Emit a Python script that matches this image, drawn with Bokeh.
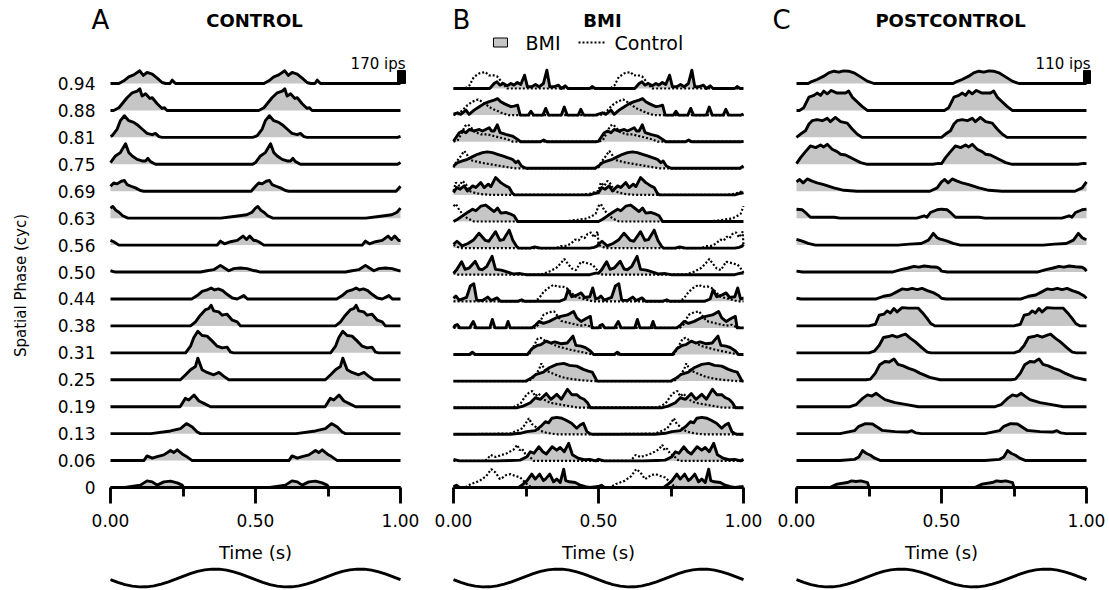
import math
from bokeh.plotting import figure
from bokeh.models import Range1d, LinearAxis, FixedTicker, NumeralTickFormatter, Label
from bokeh.layouts import row
from bokeh.core.properties import value
from bokeh.embed import file_html
from bokeh.resources import INLINE

# ---------------- data ----------------
PHASES = ["0", "0.06", "0.13", "0.19", "0.25", "0.31", "0.38", "0.44",
          "0.50", "0.56", "0.63", "0.69", "0.75", "0.81", "0.88", "0.94"]
TIME_TICKS = [0.0, 0.5, 1.0]
TIME_MINOR = [0.25, 0.75]
CYCLE_MS = 500          # each 0.5 s response cycle is shown twice
SCALE_A_IPS = 170
SCALE_C_IPS = 110

# one stimulus cycle per row: (time ms, rate ips); rows from phase 0 to 0.94
CONTROL = [
    [(0,0),(50,0),(103,31),(126,87),(144,74),(161,31),(184,74),(207,83),(230,61),(247,31),(253,0)],
    [(0,0),(115,0),(126,61),(144,31),(161,52),(184,74),(207,131),(218,105),(230,140),(247,87),(259,61),(282,0)],
    [(0,0),(140,0),(207,35),(241,65),(262,131),(282,87),(299,22),(310,0)],
    [(0,0),(240,0),(258,109),(270,87),(288,153),(305,74),(322,44),(345,0)],
    [(0,0),(241,0),(259,65),(276,131),(293,174),(301,283),(316,131),(333,96),(356,65),(374,96),(391,44),(408,0)],
    [(0,0),(259,0),(276,87),(287,196),(301,283),(316,227),(333,218),(351,153),(368,87),(385,65),(402,74),(414,9),(425,0)],
    [(0,0),(276,0),(293,52),(310,140),(328,214),(339,227),(347,270),(356,196),(374,183),(385,140),(402,153),(420,74),(437,52),(448,0)],
    [(0,0),(280,0),(299,44),(316,100),(333,118),(347,144),(359,118),(372,131),(387,109),(402,61),(420,13),(437,0),(460,44),(472,0)],
    [(0,17),(17,0),(310,0),(333,17),(356,31),(379,87),(393,52),(408,17),(425,44),(448,52),(471,44),(494,17)],
    [(0,61),(11,44),(29,0),(368,0),(379,52),(393,17),(414,44),(437,61),(457,118),(469,74),(480,118),(494,61)],
    [(0,131),(8,153),(18,105),(30,74),(42,31),(60,0),(380,0),(425,22),(470,44),(488,78)],
    [(0,65),(11,109),(23,96),(37,131),(48,140),(57,87),(71,65),(86,44),(103,9),(115,0),(485,0)],
    [(0,22),(17,109),(34,153),(52,270),(63,153),(75,109),(92,65),(109,44),(121,44),(129,78),(138,35),(155,0),(490,0)],
    [(0,13),(6,22),(23,109),(34,218),(48,283),(63,218),(80,196),(92,166),(109,109),(126,52),(144,35),(155,52),(167,9),(178,0),(490,0)],
    [(0,0),(11,0),(29,35),(57,166),(75,231),(92,253),(101,283),(109,187),(121,218),(136,157),(144,166),(161,87),(178,26),(186,35),(195,0)],
    [(0,0),(29,0),(46,35),(63,87),(80,113),(101,166),(113,105),(126,144),(144,122),(161,70),(178,13),(190,0),(205,0),(213,44),(224,0)],
]

BMI = [
    [(0,13),(10,30),(20,0),(225,0),(240,45),(253,87),(270,175),(282,110),(297,175),(310,90),(317,110),(332,175),(345,75),(356,110),(368,65),(380,240),(387,90),(400,75),(420,65),(437,30),(455,10),(470,0)],
    [(0,20),(10,10),(20,0),(150,0),(200,5),(230,10),(253,55),(265,120),(277,100),(294,185),(308,120),(320,90),(340,185),(356,140),(368,175),(382,120),(397,230),(410,80),(430,35),(450,15),(470,20),(490,0)],
    [(0,0),(195,0),(230,13),(253,35),(282,48),(300,100),(317,165),(328,150),(339,210),(356,222),(374,210),(390,180),(407,145),(425,80),(437,122),(448,145),(460,35),(470,10),(480,0)],
    [(0,0),(220,0),(240,20),(265,65),(282,130),(300,110),(320,185),(336,110),(356,175),(372,110),(393,240),(408,170),(425,170),(438,130),(450,110),(462,65),(472,0)],
    [(0,0),(250,0),(270,45),(285,87),(310,118),(330,175),(356,218),(380,231),(400,205),(425,196),(448,153),(465,130),(478,118),(488,50),(495,0)],
    [(0,0),(55,0),(65,30),(75,0),(255,0),(270,75),(290,120),(302,130),(320,175),(335,150),(350,165),(372,140),(392,150),(412,240),(422,120),(440,110),(455,90),(472,45),(483,0)],
    [(0,0),(5,30),(13,45),(22,0),(55,0),(68,85),(78,0),(125,0),(134,110),(143,0),(180,0),(188,85),(196,0),(270,0),(284,40),(295,85),(310,60),(330,85),(353,130),(370,150),(393,170),(414,215),(425,130),(440,85),(460,130),(472,150),(478,0)],
    [(0,40),(8,70),(20,15),(45,50),(58,200),(70,230),(80,15),(100,10),(118,55),(130,10),(150,45),(162,0),(220,0),(235,20),(245,0),(365,0),(385,30),(395,150),(408,60),(425,80),(440,110),(452,50),(470,60),(480,175),(490,30),(497,40)],
    [(0,20),(10,60),(28,170),(40,70),(55,90),(75,175),(88,75),(100,65),(115,110),(133,240),(145,70),(165,60),(190,30),(205,10),(230,15),(250,0),(470,0),(490,20)],
    [(0,50),(12,90),(30,30),(50,60),(70,110),(88,195),(110,100),(122,90),(145,215),(160,100),(172,110),(192,235),(205,100),(218,20),(225,0),(265,0),(280,15),(300,0),(470,0),(485,10),(495,25)],
    [(0,0),(14,30),(31,74),(48,118),(66,161),(77,140),(94,200),(111,215),(123,180),(140,130),(152,175),(163,110),(180,118),(198,96),(209,74),(221,0)],
    [(0,30),(11,96),(23,74),(37,118),(48,52),(66,118),(77,96),(94,161),(106,96),(120,140),(129,109),(145,227),(163,161),(180,118),(192,96),(203,22),(210,0),(470,0),(490,22)],
    [(0,30),(14,74),(31,96),(48,118),(66,153),(83,183),(100,205),(117,214),(134,205),(152,183),(169,161),(186,140),(203,118),(215,74),(223,96),(234,30),(250,0),(488,0)],
    [(0,5),(8,52),(20,118),(31,140),(43,118),(54,160),(71,140),(89,160),(100,140),(111,160),(123,183),(131,140),(140,140),(151,220),(161,118),(180,96),(203,74),(221,30),(232,0),(300,0),(311,22),(322,0),(490,0)],
    [(0,13),(14,30),(25,10),(43,65),(54,10),(71,65),(89,110),(106,150),(123,175),(140,195),(152,215),(163,175),(175,150),(186,130),(198,110),(209,118),(221,130),(230,0),(258,0),(267,50),(276,0),(308,0),(318,87),(328,0),(372,0),(382,105),(392,0),(430,0),(439,75),(449,0),(490,0)],
    [(0,0),(125,0),(140,65),(150,87),(160,44),(172,65),(185,35),(198,65),(208,44),(220,78),(232,52),(245,174),(255,22),(270,22),(283,52),(295,22),(310,65),(322,240),(332,22),(345,22),(362,44),(372,0),(385,35),(395,0),(470,0),(478,26),(488,0)],
]

BMI_CONTROL = [
    [(0,0),(40,0),(60,45),(90,87),(113,150),(130,240),(145,196),(160,110),(170,131),(180,160),(197,175),(214,150),(230,131),(245,75),(260,20),(275,0)],
    [(0,0),(110,0),(120,40),(128,78),(145,50),(167,78),(184,100),(208,150),(220,210),(228,140),(236,160),(248,90),(265,45),(277,0)],
    [(0,0),(195,10),(220,48),(237,78),(248,135),(260,210),(270,135),(282,100),(300,45),(320,20),(345,5),(360,0)],
    [(0,0),(200,0),(215,20),(232,60),(248,150),(260,195),(272,218),(282,150),(293,185),(310,110),(333,65),(370,40),(400,20),(430,0)],
    [(0,0),(260,0),(280,65),(295,153),(303,231),(314,153),(330,118),(350,87),(370,55),(400,30),(440,12),(480,0)],
    [(0,0),(260,0),(275,100),(290,205),(300,218),(318,175),(335,150),(356,110),(380,85),(400,65),(425,45),(450,25),(470,10),(480,0)],
    [(0,0),(280,0),(295,50),(310,170),(330,205),(347,215),(360,150),(372,90),(393,70),(416,50),(440,30),(460,40),(475,10)],
    [(0,0),(280,0),(295,40),(310,120),(325,170),(345,215),(360,190),(375,195),(390,175),(405,120),(420,60),(440,40),(460,20),(480,0)],
    [(0,20),(15,0),(300,0),(330,40),(355,90),(370,150),(382,205),(395,140),(408,80),(422,60),(440,170),(462,150),(480,130),(495,60)],
    [(0,40),(12,20),(25,0),(355,0),(370,25),(390,30),(405,60),(420,110),(432,100),(442,150),(452,130),(462,185),(474,205),(485,140),(497,215)],
    [(0,200),(8,230),(20,150),(31,100),(48,40),(71,0),(380,0),(425,20),(460,40),(475,65),(490,100)],
    [(0,52),(8,161),(20,118),(31,183),(43,140),(54,52),(71,30),(94,10),(130,0),(440,0),(470,15),(490,40)],
    [(0,10),(8,74),(25,160),(37,227),(46,183),(55,110),(71,96),(94,74),(129,52),(163,30),(209,0),(490,0)],
    [(0,0),(15,20),(28,110),(40,205),(50,225),(62,180),(75,125),(95,96),(117,96),(140,74),(163,52),(186,30),(205,0)],
    [(0,0),(15,10),(30,60),(48,130),(65,175),(85,205),(100,170),(115,130),(130,90),(148,60),(165,30),(190,0)],
    [(0,0),(40,0),(55,40),(70,150),(90,200),(110,215),(122,170),(135,175),(150,160),(165,90),(185,0)],
]

POSTCONTROL = [
    [(0,0),(115,0),(140,28),(175,42),(190,56),(205,51),(222,56),(245,42),(250,0)],
    [(0,0),(150,0),(200,10),(215,30),(228,85),(240,62),(255,45),(270,20),(290,0)],
    [(0,0),(150,0),(200,25),(215,62),(238,85),(262,82),(278,56),(295,28),(340,17),(385,14),(398,25),(412,6),(430,0)],
    [(0,0),(185,0),(205,17),(228,70),(245,100),(260,90),(275,113),(290,85),(305,60),(340,34),(380,17),(420,0)],
    [(0,0),(240,0),(255,6),(272,56),(287,127),(305,155),(320,150),(336,176),(350,130),(368,118),(387,96),(405,82),(425,56),(460,20),(495,0)],
    [(0,0),(250,0),(268,14),(285,62),(300,130),(318,138),(330,147),(347,133),(365,150),(376,158),(392,124),(410,93),(433,42),(451,6),(465,0)],
    [(0,0),(250,0),(272,14),(285,90),(301,99),(313,127),(324,110),(336,147),(347,118),(364,155),(387,150),(420,150),(435,110),(451,62),(463,20),(478,0)],
    [(0,6),(15,0),(275,0),(300,23),(325,34),(347,62),(364,85),(382,79),(399,90),(416,79),(433,90),(451,71),(474,51),(491,28)],
    [(0,8),(20,0),(330,0),(360,20),(385,34),(405,48),(422,42),(440,51),(462,45),(485,40),(495,25)],
    [(0,48),(20,34),(40,14),(65,0),(350,0),(390,8),(430,14),(455,42),(472,99),(485,62),(495,51)],
    [(0,76),(20,71),(31,48),(48,8),(130,8),(150,0),(415,0),(440,20),(450,8),(462,48),(485,71)],
    [(0,79),(11,99),(23,71),(37,104),(54,85),(71,71),(94,56),(129,28),(163,8),(209,0),(460,0),(485,28)],
    [(0,6),(14,56),(31,107),(48,155),(66,141),(83,164),(94,147),(106,169),(123,127),(140,107),(152,85),(169,79),(198,42),(221,14),(244,0),(470,0),(490,8)],
    [(0,0),(14,28),(31,56),(43,113),(54,141),(71,150),(89,141),(106,161),(117,133),(134,169),(152,133),(175,121),(192,71),(209,28),(226,0),(490,0)],
    [(0,0),(10,0),(25,23),(43,113),(60,127),(71,147),(83,127),(94,164),(106,141),(120,169),(140,147),(169,147),(180,164),(192,113),(209,73),(226,34),(244,0)],
    [(0,0),(40,0),(48,11),(71,34),(94,62),(111,90),(129,104),(146,96),(163,107),(180,104),(198,90),(221,56),(244,20),(267,0)],
]

# stimulus trace under each panel (relative position, sampled every 25 ms)
STIM_STEP_S = 0.025
STIMULUS = [-0.19, -0.48, -0.73, -0.90, -0.99, -0.98, -0.88, -0.67, -0.42, -0.12,
            0.19, 0.48, 0.73, 0.90, 0.99, 0.98, 0.88, 0.67, 0.42, 0.12,
            -0.19, -0.48, -0.73, -0.90, -0.99, -0.98, -0.88, -0.67, -0.42, -0.12,
            0.19, 0.48, 0.73, 0.90, 0.99, 0.98, 0.88, 0.67, 0.42, 0.12, -0.19]

# ---------------- styling / geometry (page pixels) ----------------
FONT = "DejaVu Sans"
GRAY = "#c6c6c6"
LW = 2.9
PX_PER_S = 290.0
BASE_PX = 487                 # page y of row-0 baseline, where the time axis sits
TOTAL_H = 589
SINE_MID_PX, SINE_AMP_PX = 577.5, 9.0

# panel edges in page x and page x of t = 0
PANELS = {"A": (0, 426, 110), "B": (426, 769, 453), "C": (769, 1108, 796)}


def X(px, t0):
    return (px - t0) / PX_PER_S


def Y(py, sp):
    return (BASE_PX - py) / sp


def expand(cycle):
    t = [ms / 1000 for ms, _ in cycle] + [(ms + CYCLE_MS) / 1000 for ms, _ in cycle] + [1.0]
    v = [val for _, val in cycle] * 2 + [cycle[0][1]]
    return t, v


def make_panel(key, spacing, k, traces, control=None):
    left, right, t0 = PANELS[key]
    p = figure(width=right - left, height=TOTAL_H,
               x_range=Range1d(X(left, t0), X(right, t0)),
               y_range=Range1d(Y(TOTAL_H, spacing), Y(0, spacing)),
               output_backend="svg", toolbar_location=None,
               x_axis_type=None, y_axis_type=None, min_border=0,
               min_border_left=0, min_border_right=0,
               min_border_top=0, min_border_bottom=0)
    p.outline_line_color = None
    p.background_fill_color = "white"
    p.border_fill_color = "white"

    for r, cyc in enumerate(traces):
        t, v = expand(cyc)
        y = [r + val * k for val in v]
        p.varea(x=t, y1=[r] * len(t), y2=y, fill_color=GRAY)
        if control is not None:
            tc, vc = expand(control[r])
            p.line(tc, [r + val * k for val in vc], line_color="black",
                   line_width=2.2, line_dash="2 2")
        p.line(t, y, line_color="black", line_width=LW, line_join="round")

    xax = LinearAxis(fixed_location=0,
                     ticker=FixedTicker(ticks=TIME_TICKS, minor_ticks=TIME_MINOR),
                     formatter=NumeralTickFormatter(format="0.00"),
                     bounds=(0, 1), axis_label="Time (s)",
                     axis_line_width=LW, axis_line_color="black",
                     major_tick_line_width=LW, major_tick_line_color="black",
                     minor_tick_line_width=LW, minor_tick_line_color="black",
                     major_tick_in=0, major_tick_out=16,
                     minor_tick_in=0, minor_tick_out=9,
                     major_label_standoff=10, axis_label_standoff=12,
                     major_label_text_font=FONT, major_label_text_font_size="17px",
                     major_label_text_color="black",
                     axis_label_text_font=FONT, axis_label_text_font_size="18px",
                     axis_label_text_font_style="normal", axis_label_text_color="black")
    p.add_layout(xax, "below")

    # stimulus trace under the axis
    ts = [i * STIM_STEP_S for i in range(len(STIMULUS))]
    ys = [Y(SINE_MID_PX, spacing) + s * SINE_AMP_PX / spacing for s in STIMULUS]
    p.line(ts, ys, line_color="black", line_width=LW)
    return p


def label(p, x, y, text, size, align="center", bold=False, angle=0.0):
    p.add_layout(Label(x=x, y=y, text=text, text_font=FONT, text_font_size=size,
                       text_align=align, text_baseline="middle", text_color="black",
                       text_font_style="bold" if bold else "normal", angle=angle))


# ---------------- panels ----------------
SP_AC = (BASE_PX - 83) / 15.0
SP_B = (BASE_PX - 88) / 15.0
K_A = (13.0 / SCALE_A_IPS) / SP_AC
K_B = (13.0 / SCALE_A_IPS) / SP_B
K_C = (13.0 / SCALE_C_IPS) / SP_AC

pA = make_panel("A", SP_AC, K_A, CONTROL)
pB = make_panel("B", SP_B, K_B, BMI, control=BMI_CONTROL)
pC = make_panel("C", SP_AC, K_C, POSTCONTROL)

# Panel A: phase labels, axis title, letter, title, scale bar
pA.text(x=[X(95, 110)] * len(PHASES), y=list(range(len(PHASES))), text=PHASES,
        text_font=value(FONT), text_font_size="17px", text_align="right",
        text_baseline="middle", text_color="black")
label(pA, X(20, 110), Y(285, SP_AC), "Spatial Phase (cyc)", "15px", angle=math.pi / 2)
label(pA, X(100, 110), Y(19, SP_AC), "A", "26px")
label(pA, X(254, 110), Y(20, SP_AC), "CONTROL", "18px", bold=True)
label(pA, X(405, 110), Y(63, SP_AC), f"{SCALE_A_IPS} ips", "15px", align="right")
pA.quad(left=[X(397, 110)], right=[X(405, 110)], bottom=[15], top=[15 + SCALE_A_IPS * K_A],
        fill_color="black", line_color="black")

# Panel B texts and legend
label(pB, X(461, 453), Y(19.5, SP_B), "B", "26px")
label(pB, X(602, 453), Y(20, SP_B), "BMI", "18px", bold=True)
pB.rect(x=[X(500, 453)], y=[Y(42, SP_B)], width=14, height=9,
        width_units="screen", height_units="screen",
        fill_color=GRAY, line_color="black", line_width=1)
label(pB, X(525, 453), Y(42, SP_B), "BMI", "19px", align="left")
pB.line([X(578, 453), X(606, 453)], [Y(42, SP_B)] * 2, line_color="black",
        line_width=2, line_dash="2 2")
label(pB, X(614, 453), Y(42, SP_B), "Control", "19px", align="left")

# Panel C texts and scale bar
label(pC, X(781, 796), Y(19, SP_AC), "C", "26px")
label(pC, X(950, 796), Y(20, SP_AC), "POSTCONTROL", "18px", bold=True)
label(pC, X(1090, 796), Y(63, SP_AC), f"{SCALE_C_IPS} ips", "15px", align="right")
pC.quad(left=[X(1083, 796)], right=[X(1090, 796)], bottom=[15], top=[15 + SCALE_C_IPS * K_C],
        fill_color="black", line_color="black")

layout = row(pA, pB, pC)

open("out.html", "w").write(file_html(layout, INLINE))
